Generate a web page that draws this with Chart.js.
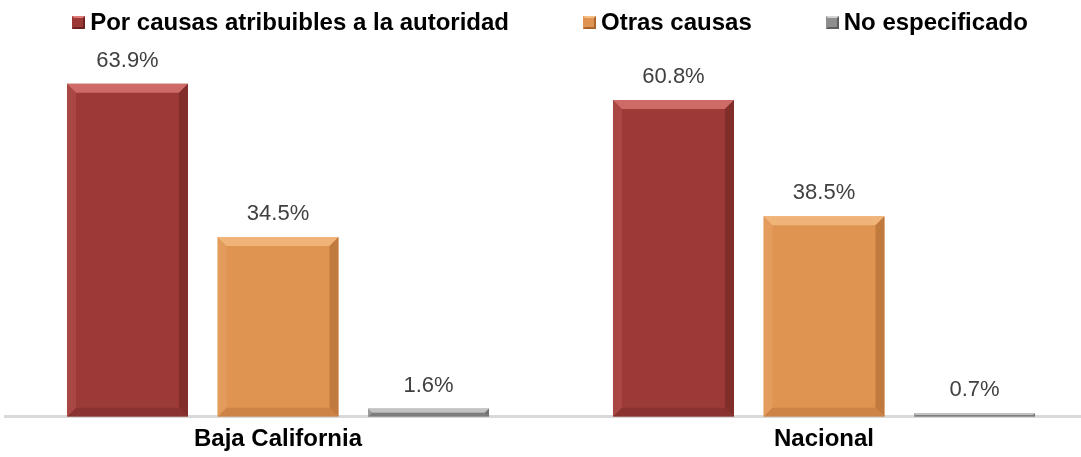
<!DOCTYPE html>
<html>
<head>
<meta charset="utf-8">
<script src="https://cdn.jsdelivr.net/npm/chart.js@4.4.1/dist/chart.umd.min.js"></script>
<style>
  html, body { margin: 0; padding: 0; background: #fff; overflow: hidden; }
  #wrap { position: relative; width: 1100px; height: 462px; }
  #legend {
    position: absolute; left: 0; top: 8px; width: 1100px; height: 28px;
    display: flex; justify-content: center; align-items: center; gap: 74px;
    font: bold 24px "Liberation Sans", Arial, sans-serif; color: #000;
  }
  #legend .item { display: flex; align-items: center; white-space: nowrap; }
  #legend .box { width: 9px; height: 9px; border: 2px solid; margin-right: 5px; }
</style>
</head>
<body>
<div id="wrap"><canvas id="causas-chart"></canvas><div id="legend"></div></div>
<script>
const categories = ['Baja California', 'Nacional'];
const seriesNames = ['Por causas atribuibles a la autoridad', 'Otras causas', 'No especificado'];
const autoridad = [63.9, 60.8];
const otras = [34.5, 38.5];
const noEspecificado = [1.6, 0.7];

const colors = ['#9b3a37', '#e09452', '#8e8e8e'];
const light = ['#e07c78', '#f6bf86', '#d4d4d4'];
const dark = ['#6b2422', '#a8652d', '#5e5e5e'];

// bevel look on the bars, like the office chart
const bevel = {
  id: 'bevel',
  afterDatasetsDraw(chart) {
    const ctx = chart.ctx;
    chart.data.datasets.forEach((ds, i) => {
      chart.getDatasetMeta(i).data.forEach(bar => {
        const l = bar.x - bar.width / 2, r = bar.x + bar.width / 2;
        const t = bar.y, b = bar.base;
        const e = Math.min(9, (b - t) / 2);
        ctx.save();
        ctx.fillStyle = light[i];
        ctx.globalAlpha = 0.75;
        ctx.beginPath();
        ctx.moveTo(l, t); ctx.lineTo(r, t); ctx.lineTo(r - e, t + e); ctx.lineTo(l + e, t + e);
        ctx.closePath(); ctx.fill();
        ctx.globalAlpha = 0.2;
        ctx.beginPath();
        ctx.moveTo(l, t); ctx.lineTo(l + e, t + e); ctx.lineTo(l + e, b - e); ctx.lineTo(l, b);
        ctx.closePath(); ctx.fill();
        ctx.fillStyle = dark[i];
        ctx.globalAlpha = 0.55;
        ctx.beginPath();
        ctx.moveTo(r, t); ctx.lineTo(r - e, t + e); ctx.lineTo(r - e, b - e); ctx.lineTo(r, b);
        ctx.closePath(); ctx.fill();
        ctx.globalAlpha = 0.35;
        ctx.beginPath();
        ctx.moveTo(l, b); ctx.lineTo(l + e, b - e); ctx.lineTo(r - e, b - e); ctx.lineTo(r, b);
        ctx.closePath(); ctx.fill();
        ctx.restore();
      });
    });
  }
};

const valueLabels = {
  id: 'valueLabels',
  afterDatasetsDraw(chart) {
    const ctx = chart.ctx;
    ctx.save();
    ctx.font = '22px "Liberation Sans", Arial, sans-serif';
    ctx.fillStyle = '#404040';
    ctx.textAlign = 'center';
    ctx.textBaseline = 'middle';
    chart.data.datasets.forEach((ds, i) => {
      chart.getDatasetMeta(i).data.forEach((bar, j) => {
        ctx.fillText(ds.data[j].toFixed(1) + '%', bar.x, bar.y - 23);
      });
    });
    ctx.restore();
  }
};

document.addEventListener('DOMContentLoaded', function(){

    const legend = document.getElementById('legend');
    seriesNames.forEach((name, i) => {
        const item = document.createElement('span');
        item.className = 'item';
        const box = document.createElement('span');
        box.className = 'box';
        box.style.background = colors[i];
        box.style.borderColor = light[i] + ' ' + dark[i] + ' ' + dark[i] + ' ' + colors[i];
        item.appendChild(box);
        item.appendChild(document.createTextNode(name));
        legend.appendChild(item);
    });

    const ctx = document.getElementById('causas-chart').getContext('2d');
    new Chart(ctx, {
        type: 'bar',
        data: {
            labels: categories,
            datasets: [
                { label: seriesNames[0], data: autoridad, backgroundColor: colors[0] },
                { label: seriesNames[1], data: otras, backgroundColor: colors[1] },
                { label: seriesNames[2], data: noEspecificado, backgroundColor: colors[2] },
            ]
        },
        options: {
            responsive: true,
            maintainAspectRatio: false,
            animation: false,
            layout: { padding: { left: 5, right: 3, top: 52, bottom: 0 } },
            datasets: { bar: { categoryPercentage: 0.827, barPercentage: 0.804 } },
            plugins: {
                legend: { display: false },
                tooltip: { enabled: false }
            },
            scales: {
                x: {
                    grid: { display: false, drawTicks: false },
                    border: { display: true, color: '#d9d9d9', width: 3 },
                    ticks: {
                        font: { family: '"Liberation Sans", Arial, sans-serif', size: 24, weight: 'bold', lineHeight: 0.8 },
                        color: '#000',
                        padding: 13
                    }
                },
                y: {
                    display: false,
                    min: 0,
                    max: 70
                }
            }
        },
        plugins: [bevel, valueLabels]
    });

});
</script>
</body>
</html>
